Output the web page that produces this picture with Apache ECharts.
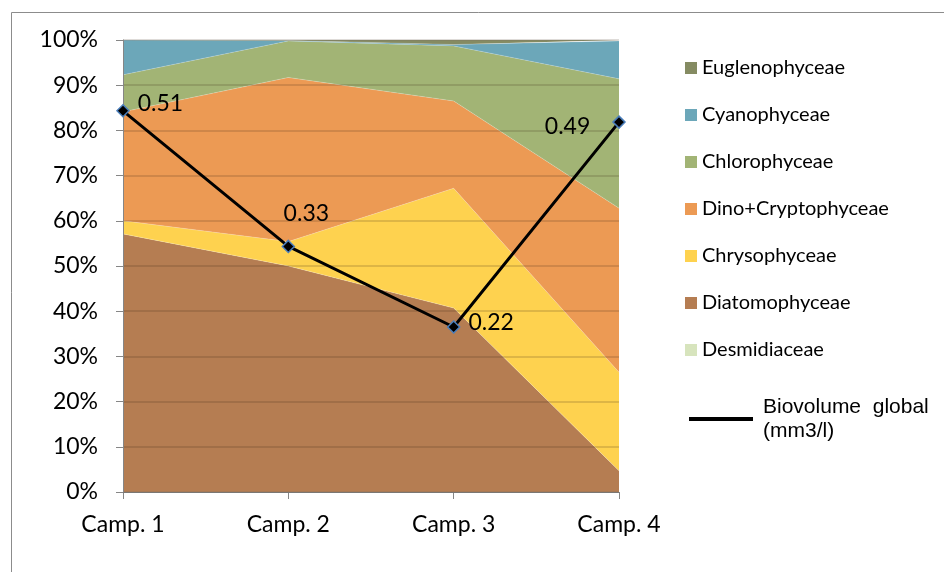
<!DOCTYPE html>
<html>
<head>
<meta charset="utf-8">
<script src="https://cdn.jsdelivr.net/npm/echarts@6/dist/echarts.min.js"></script>
<style>html,body{margin:0;padding:0;background:#fff}#c{width:944px;height:572px}</style>
</head>
<body>
<div id="c"></div>
<script>
const categories = ['Camp. 1', 'Camp. 2', 'Camp. 3', 'Camp. 4'];
const desmidiaceae = [0, 0, 0, 0];
const diatomophyceae = [57.1, 50.0, 40.7, 4.7];
const chrysophyceae = [2.9, 5.4, 26.5, 21.8];
const dinoCryptophyceae = [24.1, 36.3, 19.3, 36.3];
const chlorophyceae = [8.2, 8.1, 12.2, 28.6];
const cyanophyceae = [7.7, 0.1, 0.3, 8.4];
const euglenophyceae = [0, 0.1, 1.0, 0.2];
const biovolume = [0.506, 0.326, 0.219, 0.491];
const yTicks = [0, 10, 20, 30, 40, 50, 60, 70, 80, 90, 100];

const labelPos = [
  {position: 'right', offset: [0, -7]},
  {position: 'top', offset: [18, -7]},
  {position: 'right', offset: [0, -4]},
  {position: 'left', offset: [-14, 4]}
];

const font = 'Lato, "Open Sans", sans-serif';
function area(name, data, color) {
  return {
    name, type: 'line', stack: 'total', data, symbol: 'none',
    lineStyle: {width: 0.6, color: 'rgba(255,255,255,0.35)'},
    areaStyle: {color, opacity: 1}, itemStyle: {color},
    z: 2
  };
}

const chart = echarts.init(document.getElementById('c'), null, {renderer: 'canvas'});
chart.setOption({
  animation: false,
  backgroundColor: '#fff',
  graphic: [{
    type: 'rect', shape: {x: 11.5, y: 12.5, width: 960, height: 600},
    style: {fill: 'none', stroke: '#8c8c8c', lineWidth: 1}, silent: true, z: -10
  }],
  grid: {left: 123, right: 325, top: 40, bottom: 80},
  legend: [{
    orient: 'vertical', left: 685, top: 58, padding: 0,
    itemWidth: 12, itemHeight: 12, itemGap: 27,
    icon: 'rect',
    textStyle: {fontFamily: font, fontSize: 20, color: '#000', lineHeight: 20},
    data: ['Euglenophyceae', 'Cyanophyceae', 'Chlorophyceae', 'Dino+Cryptophyceae', 'Chrysophyceae', 'Diatomophyceae', 'Desmidiaceae']
  }, {
    orient: 'vertical', left: 689, top: 395, padding: 0,
    itemWidth: 64, itemHeight: 4, itemGap: 0,
    icon: 'rect',
    textStyle: {fontFamily: '"Liberation Sans", Arial, sans-serif', fontSize: 21, color: '#000', lineHeight: 24, padding: [0, 0, 0, 5]},
    formatter: () => 'Biovolume  global\n(mm3/l)',
    data: [{name: 'Biovolume global (mm3/l)', icon: 'rect', itemStyle: {color: '#000', borderWidth: 0}}]
  }],
  xAxis: {
    type: 'category', data: categories, boundaryGap: false,
    axisLine: {lineStyle: {color: '#868686', width: 1}},
    axisTick: {show: true, length: 7, lineStyle: {color: '#868686'}},
    axisLabel: {fontFamily: font, fontSize: 23, color: '#000', margin: 21}
  },
  yAxis: [{
    type: 'value', min: 0, max: 100, interval: 10, z: 3,
    axisLine: {show: true, lineStyle: {color: '#868686'}},
    axisTick: {show: true, length: 7, lineStyle: {color: '#868686'}},
    axisLabel: {fontFamily: font, fontSize: 23, color: '#000', margin: 25,
      formatter: v => yTicks.includes(v) ? v + '%' : ''},
    splitLine: {show: true, lineStyle: {color: 'rgba(60,40,20,0.22)', width: 1.5}}
  }, {
    type: 'value', min: 0, max: 0.6, show: false, splitLine: {show: false}
  }],
  series: [
    area('Desmidiaceae', desmidiaceae, '#D7E4BD'),
    area('Diatomophyceae', diatomophyceae, '#B57D52'),
    area('Chrysophyceae', chrysophyceae, '#FED24F'),
    area('Dino+Cryptophyceae', dinoCryptophyceae, '#EC9A54'),
    area('Chlorophyceae', chlorophyceae, '#A2B475'),
    area('Cyanophyceae', cyanophyceae, '#6CA7B9'),
    area('Euglenophyceae', euglenophyceae, '#858B62'),
    {
      name: 'Biovolume global (mm3/l)', type: 'line', yAxisIndex: 1, z: 10,
      data: biovolume.map((v, i) => ({value: v, label: labelPos[i]})),
      symbol: 'diamond', symbolSize: 12,
      lineStyle: {color: '#000', width: 3},
      itemStyle: {color: '#000', borderColor: '#4A7EBB', borderWidth: 1.5},
      label: {show: true, fontFamily: font, fontSize: 23, color: '#000', distance: 8,
        formatter: p => p.value.toFixed(2)}
    }
  ]
});
</script>
</body>
</html>
